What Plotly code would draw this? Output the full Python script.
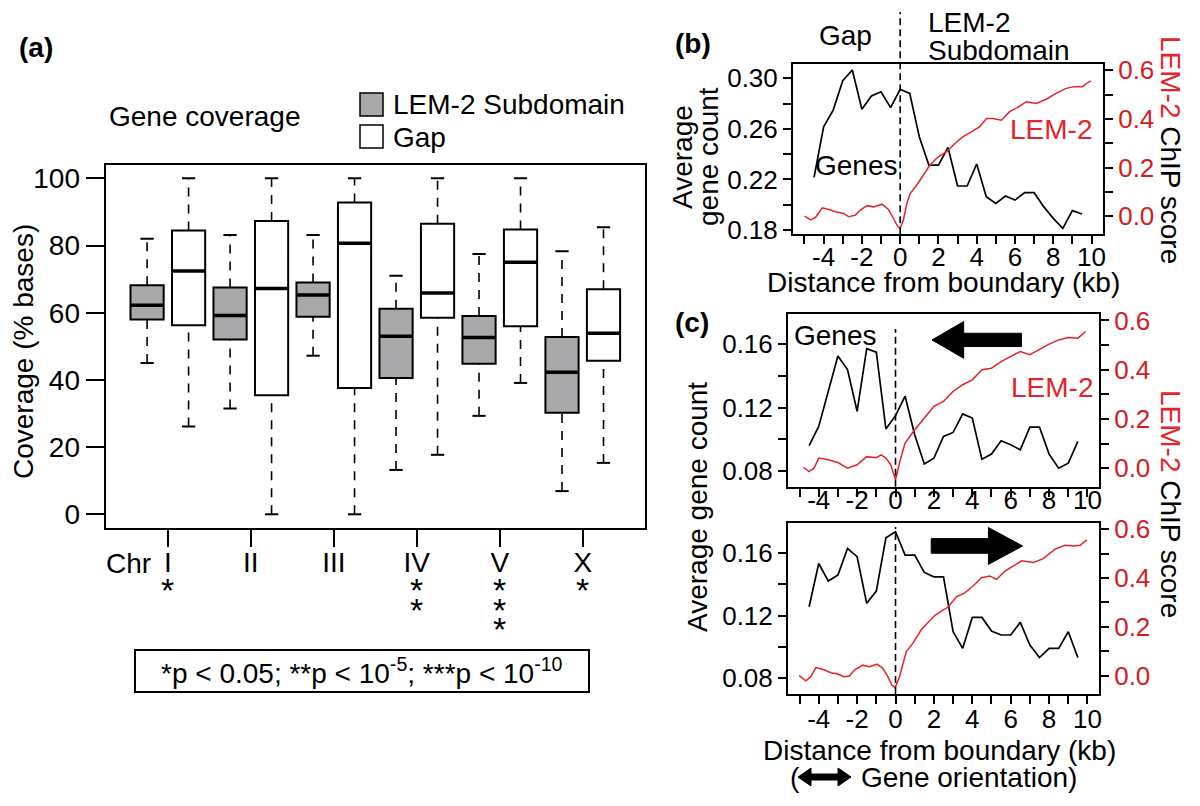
import plotly.graph_objects as go

W, H = 1200, 806
FONT = "Liberation Sans, Arial, Helvetica, sans-serif"
RED = "#e3242b"
RED_TICK = "#d61a1f"
GREY = "#a9a9ab"


def px(x):
    return x / W


def py(y):
    return 1 - y / H


# ---- panel (a): gene coverage boxplots ----
CHROMS = ["I", "II", "III", "IV", "V", "X"]
STARS = [1, 0, 0, 2, 3, 1]
SUB_LO = [45.0, 31.5, 47.2, 13.2, 29.3, 6.9]
SUB_Q1 = [58.0, 52.0, 58.8, 40.6, 44.8, 30.2]
SUB_MED = [62.2, 59.2, 65.3, 53.0, 52.6, 42.3]
SUB_Q3 = [68.2, 67.5, 69.0, 61.2, 59.0, 52.8]
SUB_HI = [82.0, 83.1, 83.1, 71.0, 77.5, 78.3]
GAP_LO = [26.1, 0.0, 0.0, 17.7, 39.1, 15.3]
GAP_Q1 = [56.3, 35.4, 37.6, 58.5, 56.0, 45.7]
GAP_MED = [72.4, 67.2, 80.7, 65.9, 75.0, 53.9]
GAP_Q3 = [84.5, 87.3, 92.8, 86.5, 84.8, 67.0]
GAP_HI = [100, 100, 100, 100, 100, 85.4]

# ---- panels (b), (c): profiles around boundary ----
KB_TICKS = [-4, -2, 0, 2, 4, 6, 8, 10]
GENE_KB = [-4.5, -4.0, -3.5, -3.0, -2.5, -2.0, -1.5, -1.0, -0.5, 0.0, 0.5, 1.0, 1.5, 2.0, 2.5,
           3.0, 3.5, 4.0, 4.5, 5.0, 5.5, 6.0, 6.5, 7.0, 7.5, 8.0, 8.5, 9.0, 9.5]
B_GENES = [0.2217, 0.2617, 0.2749, 0.2981, 0.3066, 0.2755, 0.2860, 0.2894, 0.2768, 0.2913,
           0.2881, 0.2538, 0.2314, 0.2314, 0.2454, 0.2148, 0.2148, 0.2322, 0.2064, 0.2011,
           0.2069, 0.2037, 0.2095, 0.2095, 0.1985, 0.1892, 0.1813, 0.1953, 0.1927]
C_UP_GENES = [0.0959, 0.1081, 0.1304, 0.1526, 0.1441, 0.1177, 0.1573, 0.1551, 0.1065, 0.1149,
              0.1272, 0.1029, 0.0844, 0.0880, 0.1018, 0.1043, 0.1160, 0.1134, 0.0874, 0.0906,
              0.0990, 0.0965, 0.0933, 0.1077, 0.1077, 0.0906, 0.0817, 0.0849, 0.0986]
C_DOWN_GENES = [0.1256, 0.1532, 0.1420, 0.1458, 0.1628, 0.1575, 0.1278, 0.1356, 0.1696, 0.1734,
                0.1585, 0.1585, 0.1475, 0.1447, 0.1447, 0.1097, 0.0991, 0.1188, 0.1188, 0.1101,
                0.1076, 0.1076, 0.1157, 0.1012, 0.0932, 0.0991, 0.0991, 0.1097, 0.0932]

B_CHIP_KB = [-4.99, -4.68, -4.42, -4.07, -3.73, -3.38, -2.95, -2.69, -2.34, -2.08, -1.73, -1.39,
             -0.95, -0.61, -0.35, -0.14, 0.0, 0.17, 0.35, 0.52, 0.87, 1.21, 1.56, 1.99, 2.43,
             2.86, 3.29, 3.73, 4.16, 4.51, 4.85, 5.29, 5.72, 6.15, 6.59, 7.11, 7.63, 8.15, 8.67,
             9.10, 9.53, 9.79, 9.97]
B_CHIP = [0.0, -0.016, -0.005, 0.034, 0.027, 0.018, 0.011, -0.003, 0.004, 0.025, 0.043, 0.038,
          0.049, 0.027, -0.010, -0.041, -0.051, -0.016, 0.052, 0.093, 0.128, 0.169, 0.210, 0.244,
          0.265, 0.299, 0.327, 0.347, 0.368, 0.402, 0.402, 0.395, 0.430, 0.448, 0.471, 0.464,
          0.481, 0.505, 0.526, 0.533, 0.533, 0.549, 0.557]

C_UP_CHIP_KB = [-4.8, -4.5, -4.25, -4.0, -3.5, -3.0, -2.5, -2.0, -1.5, -1.0, -0.75, -0.5, -0.25,
                0.0, 0.25, 0.5, 1.0, 1.5, 2.0, 2.5, 3.0, 3.5, 4.0, 4.5, 5.0, 5.5, 6.0, 6.5, 7.0,
                7.5, 8.0, 8.5, 9.0, 9.5, 9.9]
C_UP_CHIP = [0.004, -0.014, 0.0, 0.041, 0.034, 0.023, 0.0, 0.014, 0.047, 0.043, 0.054, 0.041,
             0.014, -0.047, 0.034, 0.102, 0.156, 0.203, 0.251, 0.271, 0.312, 0.339, 0.359, 0.400,
             0.406, 0.433, 0.454, 0.474, 0.461, 0.484, 0.504, 0.521, 0.531, 0.528, 0.555]

C_DOWN_CHIP_KB = [-5.02, -4.67, -4.41, -4.15, -3.80, -3.36, -3.01, -2.70, -2.40, -2.14, -1.71,
                  -1.36, -0.96, -0.66, -0.40, -0.19, -0.02, 0.21, 0.56, 0.91, 1.34, 1.69, 2.04,
                  2.39, 2.74, 3.17, 3.61, 4.04, 4.48, 4.91, 5.26, 5.70, 6.13, 6.57, 7.18, 7.70,
                  8.31, 8.83, 9.27, 9.62, 9.97]
C_DOWN_CHIP = [0.0, -0.021, -0.004, 0.033, 0.026, 0.012, 0.007, -0.004, -0.001, 0.023, 0.043,
               0.037, 0.047, 0.030, -0.004, -0.038, -0.049, -0.004, 0.099, 0.133, 0.188, 0.216,
               0.246, 0.264, 0.281, 0.323, 0.339, 0.367, 0.401, 0.408, 0.394, 0.428, 0.449,
               0.470, 0.463, 0.479, 0.518, 0.534, 0.531, 0.534, 0.556]

fig = go.Figure()

# ---------- panel (a) ----------
sub_x = [2 * i + 1 for i in range(len(CHROMS))]
gap_x = [2 * i + 2 for i in range(len(CHROMS))]
chr_ticks = [2 * i + 1.5 for i in range(len(CHROMS))]
BOXW = 0.8
CAPW = 0.32

for xs, lo, q1, med, q3, hi, fill in [
    (sub_x, SUB_LO, SUB_Q1, SUB_MED, SUB_Q3, SUB_HI, GREY),
    (gap_x, GAP_LO, GAP_Q1, GAP_MED, GAP_Q3, GAP_HI, "white"),
]:
    # dashed whiskers
    wx, wy = [], []
    for x, a, b, c, d in zip(xs, lo, q1, q3, hi):
        wx += [x, x, None, x, x, None]
        wy += [c, d, None, a, b, None]
    fig.add_trace(go.Scatter(x=wx, y=wy, mode="lines", xaxis="x", yaxis="y",
                             line=dict(color="black", width=1.6, dash="9px,8px"),
                             showlegend=False, hoverinfo="skip"))
    # staples
    cx, cy = [], []
    for x, a, d in zip(xs, lo, hi):
        cx += [x - CAPW / 2, x + CAPW / 2, None, x - CAPW / 2, x + CAPW / 2, None]
        cy += [d, d, None, a, a, None]
    fig.add_trace(go.Scatter(x=cx, y=cy, mode="lines", xaxis="x", yaxis="y",
                             line=dict(color="black", width=2),
                             showlegend=False, hoverinfo="skip"))
    # boxes
    fig.add_trace(go.Box(x=xs, q1=q1, median=med, q3=q3, lowerfence=q1, upperfence=q3,
                         width=BOXW, fillcolor=fill, line=dict(color="black", width=2),
                         xaxis="x", yaxis="y", showlegend=False, hoverinfo="skip"))
    # thick medians
    mx, my = [], []
    for x, m in zip(xs, med):
        mx += [x - BOXW / 2, x + BOXW / 2, None]
        my += [m, m, None]
    fig.add_trace(go.Scatter(x=mx, y=my, mode="lines", xaxis="x", yaxis="y",
                             line=dict(color="black", width=3.5),
                             showlegend=False, hoverinfo="skip"))

# ---------- panels (b), (c) ----------
for xa, ya, ya2, genes, chip_kb, chip in [
    ("x2", "y2", "y3", B_GENES, B_CHIP_KB, B_CHIP),
    ("x3", "y4", "y5", C_UP_GENES, C_UP_CHIP_KB, C_UP_CHIP),
    ("x4", "y6", "y7", C_DOWN_GENES, C_DOWN_CHIP_KB, C_DOWN_CHIP),
]:
    fig.add_trace(go.Scatter(x=chip_kb, y=chip, mode="lines", xaxis=xa, yaxis=ya2,
                             line=dict(color=RED, width=1.5), showlegend=False))
    fig.add_trace(go.Scatter(x=GENE_KB, y=genes, mode="lines", xaxis=xa, yaxis=ya,
                             line=dict(color="black", width=1.7), showlegend=False))

tick_font = dict(family=FONT, size=26, color="black")
red_font = dict(family=FONT, size=26, color=RED_TICK)
frame = dict(showline=True, mirror=True, linewidth=2, linecolor="black", automargin=False,
             showgrid=False, zeroline=False, ticks="outside", ticklen=8, tickwidth=2,
             tickcolor="black")


def kb_axis(domain, anchor, standoff):
    return dict(frame, domain=domain, anchor=anchor, range=[-5.6, 10.6],
                tickvals=KB_TICKS, ticktext=[str(v) for v in KB_TICKS],
                ticklabelstandoff=standoff,
                minor=dict(tickvals=[-5, -3, -1, 1, 3, 5, 7, 9], ticks="outside",
                           ticklen=8, tickwidth=2, tickcolor="black"),
                tickfont=tick_font)


def left_axis(domain, anchor, rng, vals, minor):
    return dict(frame, domain=domain, anchor=anchor, range=rng, tickvals=vals,
                ticktext=[f"{v:.2f}" for v in vals],
                minor=dict(tickvals=minor, ticks="outside", ticklen=8, tickwidth=2,
                           tickcolor="black"),
                tickfont=tick_font)


def right_axis(overlay, anchor):
    return dict(overlaying=overlay, anchor=anchor, side="right", range=[-0.075, 0.625],
                tickvals=[0, 0.2, 0.4, 0.6], ticktext=["0.0", "0.2", "0.4", "0.6"],
                showgrid=False, zeroline=False, showline=True, linewidth=2,
                linecolor="black", ticks="outside", ticklen=8, tickwidth=2,
                tickcolor="black", automargin=False,
                minor=dict(tickvals=[0.1, 0.3, 0.5], ticks="outside", ticklen=8,
                           tickwidth=2, tickcolor="black"),
                tickfont=red_font)


b_dom_x = [px(793), px(1103)]
c_dom_x = [px(788), px(1099)]

fig.update_layout(
    width=W, height=H, margin=dict(l=0, r=0, t=0, b=0, pad=0, autoexpand=False),
    paper_bgcolor="white", plot_bgcolor="white", showlegend=False,
    boxmode="overlay", font=dict(family=FONT, color="black"),
    xaxis=dict(frame, domain=[px(105.6), px(645)], anchor="y", range=[0, 13],
               tickvals=chr_ticks, ticktext=CHROMS, ticklen=17, ticklabelstandoff=-9,
               tickfont=dict(family=FONT, size=28, color="black")),
    yaxis=dict(frame, domain=[py(528), py(165)], anchor="x", range=[-4.08, 103.96],
               tickvals=[0, 20, 40, 60, 80, 100], ticklen=18,
               tickfont=dict(family=FONT, size=28, color="black")),
    xaxis2=kb_axis(b_dom_x, "y2", -10),
    yaxis2=left_axis([py(234.3), py(64.3)], "x2", [0.1766, 0.3111],
                     [0.18, 0.22, 0.26, 0.30], [0.20, 0.24, 0.28]),
    yaxis3=right_axis("y2", "x2"),
    xaxis3=kb_axis(c_dom_x, "y4", -19),
    yaxis4=left_axis([py(486.7), py(314.3)], "x3", [0.0700, 0.1790],
                     [0.08, 0.12, 0.16], [0.10, 0.14]),
    yaxis5=right_axis("y4", "x3"),
    xaxis4=kb_axis(c_dom_x, "y6", -7),
    yaxis6=left_axis([py(694), py(523)], "x4", [0.0700, 0.1790],
                     [0.08, 0.12, 0.16], [0.10, 0.14]),
    yaxis7=right_axis("y6", "x4"),
)

shapes = []
ann = []


def text(x, y, s, size=28, color="black", xanchor="center", bold=False, angle=0):
    if bold:
        s = f"<b>{s}</b>"
    ann.append(dict(x=px(x), y=py(y), xref="paper", yref="paper", text=s, showarrow=False,
                    xanchor=xanchor, yanchor="middle", textangle=angle,
                    font=dict(family=FONT, size=size, color=color)))


# panel (a) decorations
text(36, 47, "(a)", bold=True)
text(204, 117, "Gene coverage")
shapes.append(dict(type="rect", xref="paper", yref="paper", x0=px(360), x1=px(383),
                   y0=py(116), y1=py(93), fillcolor=GREY, line=dict(color="black", width=1.5)))
shapes.append(dict(type="rect", xref="paper", yref="paper", x0=px(360), x1=px(383),
                   y0=py(148), y1=py(125), fillcolor="white", line=dict(color="black", width=1.5)))
text(391, 104, "LEM-2 Subdomain", xanchor="left")
text(391, 137, "Gap", xanchor="left")
text(23, 352, "Coverage (% bases)", angle=-90)
text(128, 563, "Chr")
for xt, n in zip(chr_ticks, STARS):
    for k in range(n):
        ann.append(dict(x=xt, y=py(590 + 19.5 * k), xref="x", yref="paper", text="*",
                        showarrow=False, xanchor="center", yanchor="middle",
                        font=dict(family=FONT, size=34, color="black")))
shapes.append(dict(type="rect", xref="paper", yref="paper", x0=px(135), x1=px(589),
                   y0=py(692), y1=py(650), line=dict(color="black", width=2)))
text(362, 671, "*p < 0.05; **p < 10<sup>-5</sup>; ***p < 10<sup>-10</sup>")

# panel (b) decorations
text(693, 43, "(b)", bold=True)
text(845, 35, "Gap")
text(926, 22, "LEM-2", xanchor="left")
text(926, 50, "Subdomain", xanchor="left")
text(857, 165, "Genes")
text(1051, 130, "LEM-2", color=RED)
text(682, 157, "Average", angle=-90)
text(708, 157, "gene count", angle=-90)
text(943, 283, "Distance from boundary (kb)")
red_title = f"<span style='color:{RED}'>LEM-2</span> ChIP score"
text(1170, 150, red_title, angle=90)
shapes.append(dict(type="line", xref="x2", yref="paper", x0=0, x1=0, y0=py(234.3), y1=py(12),
                   line=dict(color="black", width=1.6, dash="7px,4px")))

# panel (c) decorations
text(692, 322, "(c)", bold=True)
text(835, 335, "Genes")
text(1052, 387, "LEM-2", color=RED)
text(697, 507, "Average gene count", angle=-90)
text(1171, 504, red_title, angle=90)
text(939, 750, "Distance from boundary (kb)")
text(788, 777, "(", xanchor="left")
text(859, 777, "Gene orientation)", xanchor="left")
shapes.append(dict(type="line", xref="x3", yref="paper", x0=0, x1=0, y0=py(486.7), y1=py(329),
                   line=dict(color="black", width=1.6, dash="7px,4px")))
shapes.append(dict(type="line", xref="x4", yref="paper", x0=0, x1=0, y0=py(694), y1=py(527),
                   line=dict(color="black", width=1.6, dash="7px,4px")))


def block_arrow(xref, yref, tail, base, tip, yc, shaft, head):
    pts = [(tail, yc - shaft), (base, yc - shaft), (base, yc - head), (tip, yc),
           (base, yc + head), (base, yc + shaft), (tail, yc + shaft)]
    path = "M " + " L ".join(f"{a},{b}" for a, b in pts) + " Z"
    return dict(type="path", xref=xref, yref=yref, path=path, fillcolor="black",
                line=dict(color="black", width=1))


shapes.append(block_arrow("x3", "y5", 6.56, 3.55, 1.9, 0.521, 0.027, 0.0745))
shapes.append(block_arrow("x4", "y7", 1.86, 4.84, 6.62, 0.531, 0.030, 0.0755))

# double-headed orientation arrow in the caption
dx = [798, 811, 811, 838, 838, 851, 838, 838, 811, 811]
dy = [777, 768, 774, 774, 768, 777, 786, 780, 780, 786]
dpath = "M " + " L ".join(f"{px(a)},{py(b)}" for a, b in zip(dx, dy)) + " Z"
shapes.append(dict(type="path", xref="paper", yref="paper", path=dpath, fillcolor="black",
                   line=dict(color="black", width=1)))

fig.update_layout(shapes=shapes, annotations=ann)
fig.write_html("out.html", config={"displayModeBar": False},
               post_script="document.body.style.margin='0';document.body.style.overflow='hidden';")
